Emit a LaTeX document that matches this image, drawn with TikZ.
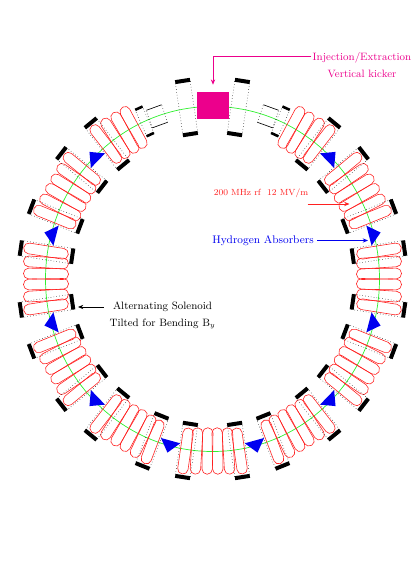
\documentclass[tikz,border=0pt]{standalone}
\usetikzlibrary{arrows.meta}
\newcommand{\coilsall}{-27/8.6,-16/3.5,-5/1,5/-1,16/-3.5,27/-8.6}
\newcommand{\coilsright}{-5/1,5/-1,16/-3.5,27/-8.6}
\newcommand{\coilsleft}{-27/8.6,-16/3.5,-5/1,5/-1}
\newcommand{\boxesall}{-26/8.6,26/-8.6}
\newcommand{\boxesright}{26/-8.6}
\newcommand{\boxesleft}{-26/8.6}
\tikzset{
  coilline/.style={draw=coilred,line width=0.5pt,rounded corners=1.55mm},
  boxline/.style={black,dotted,line width=0.45pt},
  barline/.style={black,line width=3.4pt},
  smallbar/.style={black,line width=2.2pt},
  endline/.style={black,line width=0.55pt},
  label/.style={font=\fontsize{9.1}{11}\selectfont,inner sep=0pt,align=center},
  leader/.style={line width=0.85pt,-{Stealth[length=1.6mm,width=1.3mm]}}
}
\begin{document}
\begin{tikzpicture}[x=0.03cm,y=0.03cm]
  \definecolor{coilred}{HTML}{FF2020}
  \definecolor{ringgreen}{HTML}{30F030}
  \definecolor{kickpink}{HTML}{EC008C}
  \definecolor{absblue}{HTML}{0000F0}
  \path[use as bounding box] (-212.5,-308) rectangle (202.5,279);
  \begin{scope}[yscale=1.033]
    \draw[ringgreen,line width=0.6pt] (0,0) circle (167);
    % absorbers between the cells
    \foreach \ang in {45,75,...,315}{
      \fill[absblue,rotate=-\ang] (-10,162) -- (10,162) -- (0,174) -- cycle;
    }
    % coils
    \foreach \ang/\coils in {30/\coilsright,60/\coilsall,90/\coilsall,120/\coilsall,
      150/\coilsall,180/\coilsall,210/\coilsall,240/\coilsall,270/\coilsall,
      300/\coilsall,330/\coilsleft}{
      \begin{scope}[rotate=-\ang]
        \edef\coillist{\coils}
        \foreach \off/\tilt in \coillist{
          \draw[coilline,shift={(\off,166.5)},rotate=\tilt]
            (-5.2,-22.5) rectangle (5.2,22.5);
        }
      \end{scope}
    }
    % dotted boxes and end bars
    \foreach \ang/\boxes in {0/\boxesall,30/\boxesright,60/\boxesall,90/\boxesall,
      120/\boxesall,150/\boxesall,180/\boxesall,210/\boxesall,240/\boxesall,
      270/\boxesall,300/\boxesall,330/\boxesleft}{
      \begin{scope}[rotate=-\ang]
        \edef\boxlist{\boxes}
        \foreach \off/\tilt in \boxlist{
          \begin{scope}[shift={(\off,166)},rotate=\tilt]
            \draw[boxline] (-7.5,-26) -- (-7.5,26) (7.5,-26) -- (7.5,26);
            \draw[barline] (-7.5,-26) -- (7.5,-26) (-7.5,26) -- (7.5,26);
          \end{scope}
        }
      \end{scope}
    }
    % short pieces beside the kicker
    \foreach \ang in {-24,24}{
      \begin{scope}[rotate=-\ang,shift={(0,167)}]
        \draw[boxline] (-4,-14) -- (-4,14) (4,-14) -- (4,14);
        \draw[smallbar] (-4,-14) -- (4,-14) (-4,14) -- (4,14);
      \end{scope}
    }
    \foreach \ang in {-19.4,19.4}{
      \begin{scope}[rotate=-\ang,shift={(0,167)}]
        \draw[boxline] (-8,-9) -- (-8,9) (8,-9) -- (8,9);
        \draw[endline] (-8,-9) -- (8,-9) (-8,9) -- (8,9);
      \end{scope}
    }
  \end{scope}
  \node[fill=kickpink,minimum width=0.96cm,minimum height=0.81cm,inner sep=0pt] (kicker)
    at (0.5,173.5) {};
  \node[label,text=kickpink] (kicklabel) at (149.5,214)
    {Injection/Extraction\\[1.1mm]Vertical kicker};
  \coordinate (kickturn) at (311-212.5,222.5);
  \draw[leader,kickpink,shorten >=2.1mm] (kickturn) -| (kicker.north);
  \node[label,text=coilred,font=\fontsize{7.6}{9}\selectfont] (rflabel) at (48.5,86) {200 MHz rf\ \ 12 MV/m};
  \coordinate (rfstart) at (95,75);
  \coordinate (rfend) at (137,75);
  \draw[leader,coilred] (rfstart) -- (rfend);
  \node[label,text=absblue,font=\fontsize{9.4}{11}\selectfont] (abslabel) at (50.5,38.5) {Hydrogen Absorbers};
  \coordinate (absstart) at (104.5,38.5);
  \coordinate (absend) at (155.5,38.5);
  \draw[leader,absblue] (absstart) -- (absend);
  \node[label,text=black] (sollabel) at (-50,-36.5)
    {Alternating Solenoid\\[1.1mm]Tilted for Bending B$_y$};
  \coordinate (solstart) at (-108.5,-28);
  \coordinate (solend) at (-134.5,-28);
  \draw[leader,black] (solstart) -- (solend);
\end{tikzpicture}
\end{document}
